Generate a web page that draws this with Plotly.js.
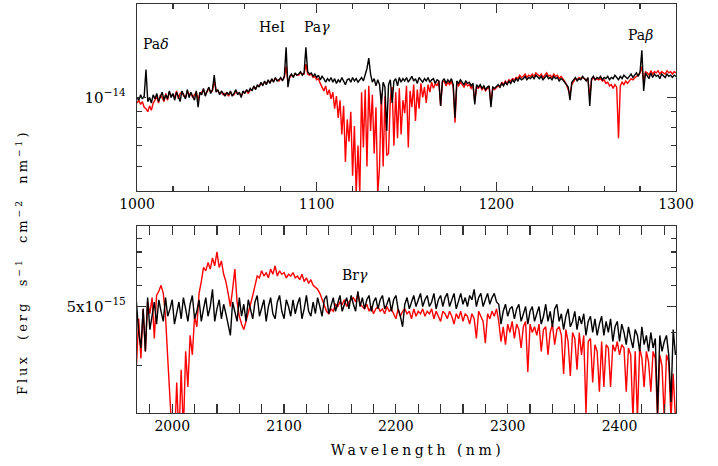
<!DOCTYPE html>
<html>
<head>
<meta charset="utf-8">
<script src="https://cdn.plot.ly/plotly-3.0.1.min.js"></script>
<style>
  html, body { margin: 0; padding: 0; background: #fff; }
  #chart { width: 718px; height: 466px; }
  .g-x2title text { letter-spacing: 3.5px; transform: translateX(11px); }
  .annotation[data-index="5"] text { letter-spacing: 3px; }
</style>
</head>
<body>
<div id="chart"></div>
<script>
// ---------- DATA (flux in units of 1e-15 erg s^-1 cm^-2 nm^-1) ----------
const topStart = 1000, topStep = 1;
const fluxBlackTop = [
  10.0, 9.8, 10.2, 9.9, 10.1, 12.3, 9.7, 10.0, 9.6, 10.2,
  9.9, 10.3, 9.7, 10.1, 10.4, 9.8, 10.2, 9.9, 10.5, 10.0,
  10.3, 9.8, 10.4, 10.1, 9.7, 10.5, 10.2, 9.9, 10.6, 10.0,
  10.4, 10.1, 9.8, 10.5, 9.3, 10.4, 10.2, 10.7, 10.1, 10.5,
  10.8, 10.3, 10.6, 11.8, 10.4, 10.6, 10.2, 10.5, 10.3, 10.1,
  10.4, 10.2, 10.5, 10.1, 10.3, 10.6, 10.2, 10.4, 10.0, 10.5,
  10.3, 10.6, 10.4, 10.7, 10.5, 10.9, 10.6, 11.0, 10.8, 11.2,
  10.9, 11.3, 11.0, 11.4, 11.1, 11.5, 11.2, 11.6, 11.3, 11.4,
  11.6, 11.3, 11.7, 14.5, 10.8, 11.7, 11.9, 11.6, 12.0, 11.8,
  11.9, 12.1, 11.8, 12.0, 14.5, 12.1, 11.9, 12.0, 11.7, 11.9,
  11.6, 11.8, 11.4, 11.7, 11.5, 11.2, 11.5, 11.3, 11.6, 11.2,
  11.5, 11.1, 11.4, 11.2, 11.6, 11.3, 11.0, 11.4, 11.5, 11.2,
  11.6, 11.3, 11.5, 11.2, 11.4, 11.6, 11.3, 11.8, 12.4, 13.4,
  11.9, 11.2, 11.5, 10.9, 11.4, 11.0, 9.5, 11.2, 10.8, 7.8,
  11.0, 11.4, 9.6, 11.3, 11.5, 10.9, 11.6, 11.2, 11.5, 11.3,
  11.6, 11.2, 11.4, 11.7, 11.3, 11.5, 11.1, 11.6, 11.4, 11.2,
  11.5, 11.3, 11.6, 11.2, 11.4, 11.5, 11.1, 11.4, 11.3, 9.4,
  11.3, 11.5, 11.1, 11.4, 11.2, 11.5, 11.0, 8.6, 11.3, 11.1,
  11.4, 11.2, 11.0, 11.3, 11.1, 11.2, 10.9, 11.1, 9.5, 11.0,
  10.8, 11.0, 10.7, 10.9, 10.6, 10.8, 10.9, 9.3, 10.8, 10.7,
  10.9, 11.0, 10.8, 11.1, 10.9, 11.2, 11.0, 11.3, 11.1, 11.4,
  11.2, 11.5, 11.3, 11.6, 11.4, 11.5, 11.7, 11.4, 11.6, 11.5,
  11.7, 11.5, 11.8, 11.6, 11.5, 11.7, 11.4, 11.6, 11.8, 11.5,
  11.6, 11.4, 11.7, 11.5, 11.6, 11.3, 11.5, 11.4, 11.2, 11.0,
  10.8, 9.8, 11.2, 11.4, 11.6, 11.3, 11.5, 11.4, 11.7, 11.5,
  11.3, 11.6, 9.4, 11.5, 11.7, 11.4, 11.6, 11.5, 11.7, 11.4,
  11.6, 11.5, 11.7, 11.4, 11.6, 11.5, 11.8, 11.6, 11.4, 11.7,
  11.5, 11.8, 11.6, 11.5, 11.7, 11.9, 11.6, 11.8, 12.0, 11.7,
  12.1, 14.2, 10.5, 12.0, 11.8, 11.5, 12.0, 11.6, 11.9, 11.7,
  11.8, 11.5, 11.9, 11.7, 11.6, 11.9, 11.7, 11.8, 11.6, 11.8,
  11.7
];
const fluxRedTop = [
  9.6, 9.8, 9.5, 9.7, 9.3, 9.2, 9.0, 9.4, 9.1, 9.6,
  9.8, 10.1, 9.6, 10.2, 10.0, 9.7, 10.3, 9.8, 10.4, 10.1,
  10.2, 10.0, 10.5, 9.9, 10.3, 10.4, 10.1, 10.0, 10.5, 10.2,
  10.3, 10.0, 10.2, 10.4, 9.8, 10.3, 10.4, 10.6, 10.2, 10.4,
  10.7, 10.4, 10.5, 11.3, 10.6, 10.5, 10.3, 10.4, 10.2, 10.3,
  10.3, 10.1, 10.4, 10.2, 10.2, 10.5, 10.3, 10.3, 10.1, 10.4,
  10.4, 10.5, 10.3, 10.6, 10.6, 10.8, 10.7, 10.9, 10.9, 11.1,
  11.0, 11.2, 11.1, 11.3, 11.2, 11.4, 11.3, 11.5, 11.4, 11.3,
  11.5, 11.4, 11.6, 12.6, 11.2, 11.6, 11.8, 11.7, 11.9, 11.8,
  11.8, 12.0, 11.9, 11.9, 12.8, 11.9, 11.8, 11.9, 11.6, 11.7,
  11.4, 11.5, 11.1, 10.8, 10.5, 10.9, 10.2, 10.6, 9.9, 10.4,
  9.2, 10.1, 8.6, 9.8, 7.6, 9.4, 6.2, 8.5, 7.2, 9.0,
  5.6, 8.1, 4.9, 7.0, 4.9, 10.4, 6.9, 10.6, 6.0, 10.9,
  7.8, 10.2, 6.6, 9.3, 4.9, 6.0, 10.3, 6.0, 10.1, 6.5,
  6.6, 9.9, 10.8, 7.0, 10.4, 7.4, 10.7, 7.6, 9.8, 8.9,
  10.9, 6.9, 10.5, 9.3, 11.0, 8.4, 10.6, 9.2, 11.1, 10.0,
  10.8, 9.6, 11.0, 10.4, 11.2, 10.7, 11.1, 10.9, 11.3, 9.4,
  11.2, 11.3, 10.9, 11.2, 11.0, 11.3, 10.8, 8.3, 11.1, 10.9,
  11.2, 11.0, 10.8, 11.1, 10.9, 11.0, 10.7, 10.9, 9.7, 10.8,
  10.7, 10.9, 10.6, 10.8, 10.5, 10.7, 10.8, 9.6, 10.7, 10.6,
  10.8, 10.9, 10.8, 11.2, 11.0, 11.3, 11.1, 11.4, 11.3, 11.5,
  11.4, 11.6, 11.5, 11.8, 11.6, 11.7, 11.9, 11.6, 11.8, 11.7,
  11.9, 11.7, 12.0, 11.8, 11.7, 11.9, 11.6, 11.8, 12.0, 11.7,
  11.8, 11.6, 11.9, 11.7, 11.8, 11.5, 11.7, 11.5, 11.3, 11.0,
  10.6, 10.2, 11.0, 11.3, 11.5, 11.4, 11.6, 11.5, 11.6, 11.5,
  11.4, 11.5, 10.0, 11.4, 11.6, 11.4, 11.5, 11.4, 11.5, 11.3,
  11.4, 11.1, 11.2, 10.9, 11.0, 10.7, 11.0, 10.8, 7.4, 10.9,
  11.2, 11.0, 11.3, 11.1, 11.3, 11.5, 11.4, 11.6, 11.7, 11.8,
  12.0, 12.6, 11.2, 12.1, 12.0, 11.8, 12.2, 11.9, 12.1, 12.0,
  12.2, 11.9, 12.1, 12.0, 11.9, 12.2, 12.0, 12.1, 11.9, 12.1,
  12.0
];
const botStart = 1968, botStep = 2;
const fluxBlackBot = [
  5.2, 4.0, 3.5, 4.9, 3.4, 5.4, 4.1, 4.6, 5.2, 4.3,
  5.3, 4.8, 4.4, 5.4, 4.6, 4.9, 5.3, 4.3, 4.7, 5.2,
  4.5, 5.4, 4.9, 4.4, 5.1, 5.5, 4.5, 4.8, 5.3, 4.4,
  4.9, 5.4, 4.6, 5.0, 5.8, 4.4, 4.9, 5.3, 4.5, 5.1,
  4.7, 4.2, 3.9, 5.2, 4.8, 4.4, 5.4, 4.6, 5.1, 4.4,
  5.3, 4.9, 4.5, 5.2, 5.5, 4.6, 4.9, 5.3, 4.4, 5.0,
  5.4, 4.7, 4.5, 5.2, 5.5, 4.8, 4.5, 5.3, 5.0, 4.6,
  5.3, 4.7, 5.1, 5.4, 4.5, 4.9, 5.5, 4.8, 4.6, 5.2,
  4.7, 5.4, 5.0, 4.6, 5.3, 5.5, 4.7, 5.0, 5.4, 4.8,
  5.2, 5.5, 4.8, 5.1, 5.4, 4.9, 5.5, 5.1, 4.8, 5.7,
  5.0, 5.4, 4.9, 5.3, 5.5, 4.8, 5.2, 5.4, 4.9, 5.3,
  5.5, 4.9, 5.1, 5.4, 4.8, 5.3, 5.5, 4.9, 4.6, 4.2,
  5.1, 5.4, 4.9, 5.2, 5.5, 5.0, 5.3, 5.6, 5.0, 5.3,
  5.5, 5.0, 5.2, 5.6, 4.9, 5.3, 5.5, 5.0, 5.4, 5.6,
  5.0, 5.3, 5.6, 4.9, 5.2, 5.6, 5.1, 5.4, 5.0, 5.5,
  5.3, 5.8, 5.0, 5.4, 5.6, 5.0, 5.3, 5.6, 5.1, 5.4,
  5.6, 5.2, 5.1, 4.3, 4.8, 5.1, 4.6, 4.9, 5.0, 4.5,
  4.9, 5.1, 4.4, 4.7, 5.0, 4.3, 4.8, 5.0, 4.4, 4.7,
  5.0, 4.3, 4.6, 5.1, 4.4, 4.8, 4.2, 4.9, 5.1, 4.4,
  4.7, 4.1, 4.6, 4.9, 4.2, 4.4, 4.8, 4.1, 4.6, 4.3,
  4.7, 3.9, 4.4, 4.6, 4.0, 4.5, 3.9, 4.3, 4.6, 3.9,
  4.4, 4.0, 4.5, 3.7, 4.2, 4.4, 3.7, 4.3, 4.0, 3.6,
  4.2, 3.8, 3.5, 4.1, 3.9, 3.4, 4.2, 3.6, 3.9, 3.4,
  4.0, 3.5, 3.8, 2.0, 3.9, 3.4, 3.7, 3.9, 3.3, 2.2,
  4.1, 3.3
];
const fluxRedBot = [
  3.0, 4.5, 3.2, 4.9, 3.4, 5.2, 4.7, 5.4, 3.8, 5.5,
  5.7, 6.0, 5.6, 4.6, 3.2, 2.2, 1.6, 1.5, 2.6, 1.6,
  2.9, 1.7, 3.4, 2.5, 3.9, 3.3, 4.6, 4.2, 5.6, 6.2,
  7.0, 6.8, 7.3, 6.9, 7.6, 7.1, 8.0, 7.0, 7.4, 6.6,
  6.2, 5.6, 5.0, 5.8, 6.9, 5.2, 4.6, 4.3, 4.1, 4.4,
  4.7, 5.1, 5.5, 6.0, 6.5, 6.4, 6.8, 6.5, 6.7, 6.4,
  6.9, 6.6, 7.1, 6.5, 6.8, 6.6, 6.7, 6.4, 6.6, 6.5,
  6.7, 6.4, 6.5, 6.3, 6.6, 6.2, 6.4, 6.1, 6.3, 6.0,
  5.9, 5.8, 5.6, 5.3, 5.0, 4.8, 4.7, 4.9, 4.8, 5.1,
  5.0, 5.2, 5.1, 5.3, 5.0, 5.2, 5.3, 5.4, 5.2, 5.6,
  5.1, 5.0, 4.9, 5.1, 4.8, 5.0, 4.7, 4.9, 5.0, 4.8,
  4.9, 4.7, 5.0, 4.8, 4.9, 4.7, 4.5, 4.9, 4.6, 4.8,
  4.9, 4.7, 4.8, 4.5, 4.9, 4.6, 4.8, 4.7, 4.9, 4.6,
  4.8, 4.7, 4.9, 4.5, 4.8, 4.6, 4.4, 4.8, 4.7, 4.5,
  4.8, 4.6, 4.3, 4.7, 4.5, 4.8, 4.4, 4.7, 4.6, 4.3,
  4.7, 4.5, 3.8, 4.8, 4.6, 4.4, 3.65, 4.7, 4.5, 4.8,
  4.6, 4.9, 4.4, 3.7, 4.2, 3.6, 4.3, 4.0, 4.4, 3.8,
  4.3, 4.1, 3.5, 4.2, 4.4, 2.85, 4.3, 4.0, 4.2, 3.9,
  4.3, 3.4, 4.1, 4.2, 3.3, 4.0, 4.3, 3.6, 4.1, 4.2,
  3.9, 2.8, 4.1, 3.7, 2.75, 4.0, 3.8, 2.9, 4.0, 3.3,
  3.9, 2.0, 3.7, 3.8, 2.6, 3.6, 3.4, 2.4, 3.7, 2.5,
  3.6, 3.5, 2.5, 3.6, 3.4, 3.7, 3.3, 3.6, 3.5, 2.4,
  3.5, 3.3, 1.9, 3.4, 1.9, 3.5, 3.2, 2.5, 3.4, 3.1,
  2.4, 3.4, 3.2, 1.9, 3.3, 3.0, 1.9, 3.3, 3.1, 1.9,
  2.8, 1.9
];
const topYTickVals = [1e-14];
const topYTickText = ['10<sup>\u221214</sup>'];
const botYTickVals = [5e-15];
const botYTickText = ['5x10<sup>\u221215</sup>'];
const topYMinorLeft = [6e-15, 7e-15, 8e-15, 9e-15];
const botYMinorLeft = [3e-15, 6e-15, 7e-15, 8e-15, 9e-15];
const botYMinorRight = [4e-15, 6e-15, 7e-15, 8e-15, 9e-15];
const lineLabels = ['Pa<i>\u03b4</i>', 'HeI', 'Pa<i>\u03b3</i>', 'Pa<i>\u03b2</i>', 'Br<i>\u03b3</i>'];
const lineLabelWave = [1002.2, 1075.2, 1100.3, 1280.2, 2163.2];
const lineLabelFlux = [1.49e-14, 1.69e-14, 1.69e-14, 1.59e-14, 6.56e-15];

// ---------- BUILD ----------
const UNIT = 1e-15;
function waveGrid(start, step, n) { const a = []; for (let i = 0; i < n; i++) a.push(start + step * i); return a; }
const waveTop = waveGrid(topStart, topStep, fluxBlackTop.length);
const waveBot = waveGrid(botStart, botStep, fluxBlackBot.length);
const sc = arr => arr.map(v => v * UNIT);

const LW = 1.4;
const traces = [
  {x: waveTop, y: sc(fluxRedTop), xaxis: 'x', yaxis: 'y', type: 'scatter', mode: 'lines', line: {color: '#ff0000', width: LW}, hoverinfo: 'skip'},
  {x: waveTop, y: sc(fluxBlackTop), xaxis: 'x', yaxis: 'y', type: 'scatter', mode: 'lines', line: {color: '#000000', width: LW}, hoverinfo: 'skip'},
  {x: waveBot, y: sc(fluxRedBot), xaxis: 'x2', yaxis: 'y2', type: 'scatter', mode: 'lines', line: {color: '#ff0000', width: LW}, hoverinfo: 'skip'},
  {x: waveBot, y: sc(fluxBlackBot), xaxis: 'x2', yaxis: 'y4', type: 'scatter', mode: 'lines', line: {color: '#000000', width: LW}, hoverinfo: 'skip'}
];

const FONT = 'DejaVu Serif';
const FRAME = '#333333';
const tickFont = {family: FONT, size: 14, color: '#000'};
const yTickFont = {family: FONT, size: 15, color: '#000'};

const xCommon = {
  showgrid: false, zeroline: false, showline: true, linecolor: FRAME, linewidth: 1.2,
  mirror: 'allticks', ticks: 'inside', ticklen: 9, tickwidth: 1.2, tickcolor: FRAME,
  tickmode: 'linear', dtick: 100, tickfont: tickFont, fixedrange: true,
  minor: {ticks: 'inside', ticklen: 5, tickwidth: 1.2, tickcolor: FRAME, dtick: 20, showgrid: false}
};

const yLogTop = [Math.log10(5e-15), Math.log10(2e-14)];
const yLogBot = [Math.log10(2e-15), Math.log10(1e-14)];

const layout = {
  width: 718, height: 466,
  margin: {l: 137, r: 42, t: 4, b: 53},
  paper_bgcolor: '#ffffff', plot_bgcolor: '#ffffff',
  showlegend: false,
  xaxis: Object.assign({}, xCommon, {domain: [0, 1], anchor: 'y', range: [1000, 1300], tick0: 1000}),
  yaxis: {
    domain: [0.5428, 1], anchor: 'x', type: 'log', range: yLogTop,
    showgrid: false, zeroline: false, showline: true, linecolor: FRAME, linewidth: 1.2,
    mirror: 'allticks', ticks: 'inside', ticklen: 9, tickwidth: 1.2, tickcolor: FRAME,
    tickmode: 'array', tickvals: topYTickVals, ticktext: topYTickText, tickfont: yTickFont,
    ticklabelstandoff: 7, fixedrange: true,
    minor: {ticks: 'inside', ticklen: 5, tickwidth: 1.2, tickcolor: FRAME, tickmode: 'array', tickvals: topYMinorLeft, showgrid: false}
  },
  xaxis2: Object.assign({}, xCommon, {domain: [0, 1], anchor: 'y2', range: [1968.5, 2450.5], tick0: 2000,
    title: {text: 'Wavelength (nm)', font: {family: FONT, size: 14, color: '#000'}, standoff: 12}}),
  yaxis2: {
    domain: [0, 0.4572], anchor: 'x2', type: 'log', range: yLogBot,
    showgrid: false, zeroline: false, showline: true, linecolor: FRAME, linewidth: 1.2,
    mirror: true, ticks: 'inside', ticklen: 9, tickwidth: 1.2, tickcolor: FRAME,
    tickmode: 'array', tickvals: botYTickVals, ticktext: botYTickText, tickfont: yTickFont,
    ticklabelstandoff: 7, fixedrange: true,
    minor: {ticks: 'inside', ticklen: 5, tickwidth: 1.2, tickcolor: FRAME, tickmode: 'array', tickvals: botYMinorLeft, showgrid: false}
  },
  yaxis4: {
    overlaying: 'y2', side: 'right', anchor: 'x2', type: 'log', range: yLogBot,
    showgrid: false, zeroline: false, showline: false, ticks: 'inside', ticklen: 9, tickwidth: 1.2, tickcolor: FRAME,
    tickmode: 'array', tickvals: botYTickVals, showticklabels: false, fixedrange: true,
    minor: {ticks: 'inside', ticklen: 5, tickwidth: 1.2, tickcolor: FRAME, tickmode: 'array', tickvals: botYMinorRight, showgrid: false}
  },
  annotations: lineLabels.map((t, i) => ({
    text: t, x: lineLabelWave[i], y: Math.log10(lineLabelFlux[i]),
    xref: i < 4 ? 'x' : 'x2', yref: i < 4 ? 'y' : 'y2',
    xanchor: i === 0 ? 'left' : 'center', yanchor: 'middle', showarrow: false,
    font: {family: FONT, size: 14, color: '#000'}
  })).concat([{
    text: 'Flux  (erg  s<sup>\u22121</sup>  cm<sup>\u22122</sup>  nm<sup>\u22121</sup>)',
    xref: 'paper', yref: 'paper', x: -0.2134, y: 0.369, textangle: -90,
    xanchor: 'center', yanchor: 'middle', showarrow: false,
    font: {family: FONT, size: 13, color: '#000'}
  }])
};

Plotly.newPlot('chart', traces, layout, {displayModeBar: false, staticPlot: true});
</script>
</body>
</html>
